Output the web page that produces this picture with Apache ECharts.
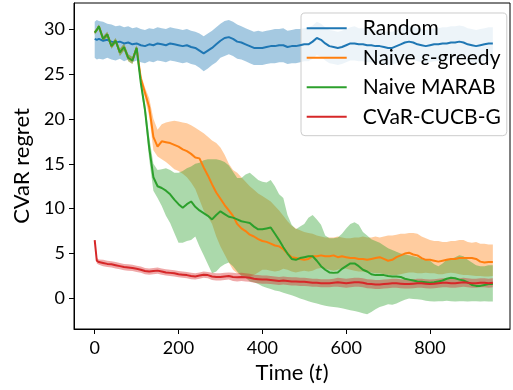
<!DOCTYPE html>
<html>
<head>
<meta charset="utf-8">
<script src="https://cdn.jsdelivr.net/npm/echarts@6/dist/echarts.min.js"></script>
<style>html,body{margin:0;padding:0;background:#fff;}#c{width:513px;height:390px;}</style>
</head>
<body>
<div id="c"></div>
<script>
const T = [0,5,10,20,30,40,50,60,70,80,90,100,
110,120,130,140,150,160,170,180,190,200,
210,220,230,240,250,260,270,280,290,300,
310,320,330,340,350,360,370,380,390,400,
410,420,430,440,450,460,470,480,490,500,
510,520,530,540,550,560,570,580,590,600,
610,620,630,640,650,660,670,680,690,700,
710,720,730,740,750,760,770,780,790,800,
810,820,830,840,850,860,870,880,890,900,
910,920,930,940,950];

const seriesNames = ['Random', 'Naive ε-greedy', 'Naive MARAB', 'CVaR-CUCB-G'];
const xTicks = [0, 200, 400, 600, 800];
const yTicks = [0, 5, 10, 15, 20, 25, 30];

// Random
const randomMean = [28.9,28.8,
28.9,28.7,28.8,28.6,28.5,28.6,28.4,28.5,28.3,28.4,
28.2,28.1,28.3,28.2,28.4,28.3,28.2,28.4,28.3,28.2,
28.1,28.2,28.0,27.9,27.6,27.3,27.6,27.9,28.3,28.7,
29.0,29.1,28.9,28.6,28.5,28.3,28.1,27.9,27.9,27.9,
28.0,28.1,28.1,28.2,28.2,28.0,28.1,28.1,28.2,28.3,
28.3,28.6,29.0,28.8,28.4,28.1,28.0,27.9,28.0,28.2,
28.4,28.4,28.3,28.3,28.2,28.2,28.1,28.1,28.0,27.9,
27.9,28.1,28.3,28.5,28.6,28.5,28.3,28.2,28.1,28.2,
28.3,28.3,28.4,28.4,28.5,28.5,28.6,28.5,28.3,28.2,
28.1,28.2,28.3,28.4,28.4];
const randomHi = [30.8,31.0,
30.9,30.8,30.6,30.5,30.3,30.4,30.2,30.3,30.1,30.2,
30.0,29.9,30.1,30.0,30.2,30.1,30.0,30.2,30.1,30.0,
29.9,30.0,29.8,29.7,29.5,29.2,29.5,29.8,30.2,30.6,
30.9,31.0,30.8,30.5,30.3,30.1,29.9,29.7,29.8,29.7,
29.8,29.9,30.0,30.0,30.1,29.8,29.9,30.0,30.0,30.1,
30.2,30.4,30.8,30.6,30.2,29.9,29.8,29.7,29.8,30.0,
30.2,30.3,30.1,30.1,30.0,30.0,29.9,29.9,29.8,29.7,
29.7,29.9,30.1,30.3,30.4,30.3,30.1,30.0,29.9,30.0,
30.1,30.1,30.2,30.2,30.3,30.3,30.4,30.3,30.1,30.0,
29.9,30.0,30.1,30.2,30.2];
const randomLo = [26.8,26.6,
26.7,26.6,26.8,26.6,26.5,26.7,26.4,26.6,26.3,26.5,
26.3,26.2,26.4,26.3,26.5,26.4,26.3,26.5,26.4,26.3,
26.2,26.3,26.1,26.0,25.7,25.3,25.6,26.0,26.3,26.8,
27.0,27.2,27.0,26.7,26.6,26.4,26.2,26.0,26.0,26.0,
26.1,26.2,26.2,26.3,26.3,26.1,26.2,26.2,26.3,26.4,
26.4,26.7,27.1,26.9,26.5,26.2,26.1,26.0,26.1,26.3,
26.5,26.5,26.4,26.4,26.3,26.3,26.2,26.2,26.1,26.0,
26.0,26.2,26.4,26.6,26.7,26.6,26.4,26.3,26.2,26.3,
26.4,26.4,26.5,26.5,26.6,26.6,26.7,26.6,26.4,26.3,
26.2,26.3,26.4,26.5,26.5];

// Naive epsilon-greedy
const greedyMean = [29.6,29.9,
30.3,28.9,29.4,28.1,28.7,27.4,28.0,26.8,26.5,27.9,
24.5,22.9,21.3,18.0,16.9,17.5,17.4,17.3,17.1,16.9,
16.6,16.4,16.1,15.7,15.6,14.6,13.7,12.7,11.8,11.1,
10.4,9.8,9.2,8.3,7.8,7.5,7.1,6.9,6.6,6.4,
6.3,6.1,5.9,5.8,5.5,5.0,4.6,4.5,4.4,4.3,
4.4,4.7,4.7,4.8,4.7,4.7,4.8,4.6,4.7,4.6,
4.5,4.5,4.4,4.4,4.3,4.4,4.5,4.6,4.4,4.2,
4.3,4.6,4.8,5.0,5.1,4.9,4.8,4.5,4.3,4.3,
4.2,4.1,4.2,4.3,4.4,4.4,4.5,4.5,4.5,4.5,
4.4,4.1,4.0,4.05,4.05];
const greedyHi = [29.8,30.1,
30.5,29.2,29.7,28.4,29.0,27.8,28.4,27.2,26.9,28.2,
25.0,23.5,22.3,20.0,18.8,19.4,19.6,19.7,19.8,19.7,
19.6,19.5,19.3,19.0,18.7,18.4,18.0,17.6,17.3,16.8,
16.0,15.0,14.3,14.0,13.5,13.0,12.5,12.1,11.7,11.4,
11.1,10.8,10.3,9.8,9.2,8.6,8.1,7.8,7.6,7.4,
7.3,7.2,7.0,6.9,6.8,6.8,6.8,6.9,6.8,6.7,
6.7,6.8,6.8,6.9,6.8,6.8,6.9,6.8,6.9,7.0,
7.0,7.1,7.2,7.2,7.3,7.3,7.2,6.9,6.7,6.5,
6.4,6.4,6.3,6.3,6.4,6.4,6.5,6.5,6.3,6.2,
6.3,6.1,6.1,6.0,6.0];
const greedyLo = [29.4,29.7,
30.1,28.6,29.1,27.8,28.4,27.0,27.6,26.4,26.1,27.6,
24.0,22.3,20.3,16.5,15.8,15.5,15.2,14.8,14.4,14.2,
13.9,13.5,12.9,12.2,11.0,9.8,9.1,8.3,6.9,5.8,
4.9,4.0,3.2,2.8,2.6,2.5,2.4,2.6,2.9,3.2,
3.2,3.1,3.0,3.1,3.3,3.2,3.0,2.9,3.0,3.1,
3.0,3.1,3.3,3.4,3.3,3.2,3.1,3.2,3.4,3.3,
3.2,3.1,3.0,3.0,2.9,2.9,2.8,2.8,2.7,2.65,
2.6,2.6,2.7,2.8,2.9,2.9,2.8,2.8,2.85,2.8,
2.8,2.7,2.7,2.8,2.85,2.8,2.7,2.6,2.6,2.55,
2.5,2.5,2.45,2.45,2.5];

// Naive MARAB
const marabMean = [29.6,29.9,
30.3,28.9,29.4,28.1,28.7,27.4,28.0,26.8,26.5,27.9,
24.0,21.0,16.8,13.5,12.5,12.3,12.0,11.6,11.0,10.5,
10.1,10.5,10.8,10.2,9.8,9.5,9.2,8.8,9.3,9.7,
9.4,9.1,9.0,8.8,8.6,8.5,8.4,8.0,7.7,7.7,
7.8,7.9,7.2,6.5,5.7,5.0,4.4,4.3,4.5,4.6,
4.7,4.7,4.2,3.6,3.2,2.9,2.85,2.9,3.3,3.6,
3.9,3.9,3.6,3.2,3.0,2.7,2.6,2.6,2.6,2.5,
2.45,2.45,2.4,2.2,2.1,2.0,1.9,1.85,1.8,1.75,
1.8,1.9,2.0,2.2,2.3,2.25,2.1,2.0,1.8,1.5,
1.4,1.4,1.5,1.6,1.6];
const marabHi = [29.8,30.1,
30.5,29.2,29.7,28.4,29.0,27.8,28.4,27.2,26.9,28.2,
24.5,21.8,18.0,15.0,14.3,14.4,14.5,14.3,14.0,14.0,
14.2,14.5,14.7,15.0,15.1,15.4,15.5,15.5,15.5,15.4,
15.2,14.8,14.1,13.4,13.4,13.8,14.0,13.6,13.2,13.0,
12.9,13.2,12.5,11.6,11.2,9.3,8.2,7.7,8.0,8.3,
9.0,9.3,8.8,8.2,7.0,6.7,6.7,6.8,7.2,7.8,
8.3,8.5,8.2,7.4,7.0,6.6,6.4,6.2,5.9,5.6,
5.4,5.2,5.0,4.9,4.8,4.7,4.6,4.4,4.3,4.2,
3.8,3.6,3.9,4.3,4.4,4.6,4.8,4.7,4.3,4.0,
3.7,3.6,3.6,3.7,3.7];
const marabLo = [29.4,29.7,
30.1,28.6,29.1,27.8,28.4,27.0,27.6,26.4,26.1,27.6,
23.5,20.2,15.5,12.0,11.2,10.3,9.2,8.4,7.3,6.2,
6.2,6.4,6.5,6.9,5.8,4.8,3.8,2.8,3.0,3.5,
3.8,4.0,3.6,3.0,2.5,2.3,1.9,1.8,1.6,1.35,
1.2,1.05,0.9,0.8,0.65,0.5,0.35,0.2,0.0,-0.15,
-0.3,-0.45,-0.55,-0.7,-0.8,-0.9,-0.95,-1.0,-1.1,-1.2,
-1.3,-1.4,-1.5,-1.65,-1.75,-1.5,-1.2,-0.95,-0.8,-0.65,
-0.7,-0.55,-0.35,-0.15,0.0,-0.05,-0.1,-0.15,-0.25,-0.3,
-0.35,-0.3,-0.3,-0.25,-0.3,-0.35,-0.3,-0.3,-0.35,-0.3,
-0.3,-0.35,-0.3,-0.35,-0.35];

// CVaR-CUCB-G
const cucbMean = [6.5,4.2,
4.05,3.95,3.85,3.8,3.7,3.6,3.5,3.45,3.4,3.3,
3.2,3.05,3.0,3.05,3.1,3.0,2.9,2.85,2.8,2.7,
2.65,2.6,2.5,2.45,2.55,2.65,2.6,2.45,2.4,2.4,
2.45,2.5,2.4,2.35,2.4,2.35,2.3,2.2,2.15,2.1,
2.1,2.05,2.0,1.95,2.0,1.95,1.9,1.9,1.85,1.85,
1.8,1.75,1.75,1.7,1.7,1.7,1.75,1.8,1.75,1.7,
1.75,1.8,1.8,1.75,1.65,1.6,1.55,1.55,1.6,1.65,
1.7,1.7,1.65,1.6,1.6,1.65,1.7,1.7,1.65,1.6,
1.65,1.7,1.75,1.75,1.7,1.7,1.75,1.8,1.75,1.7,
1.7,1.75,1.75,1.7,1.75];
const cucbHi = [6.6,4.5,
4.35,4.3,4.2,4.15,4.05,3.95,3.85,3.8,3.75,3.65,
3.55,3.4,3.35,3.4,3.45,3.35,3.25,3.2,3.15,3.05,
3.0,2.95,2.85,2.8,2.9,3.0,2.95,2.85,2.8,2.8,
2.85,2.9,2.85,2.8,2.85,2.8,2.75,2.65,2.6,2.55,
2.55,2.5,2.45,2.4,2.45,2.4,2.35,2.35,2.3,2.3,
2.25,2.2,2.2,2.15,2.15,2.15,2.2,2.3,2.25,2.2,
2.25,2.3,2.3,2.25,2.15,2.1,2.05,2.05,2.1,2.15,
2.2,2.2,2.15,2.1,2.1,2.15,2.2,2.2,2.15,2.1,
2.15,2.2,2.25,2.25,2.2,2.2,2.25,2.3,2.25,2.2,
2.2,2.25,2.25,2.2,2.25];
const cucbLo = [6.4,3.9,
3.75,3.6,3.5,3.45,3.35,3.25,3.15,3.1,3.05,2.95,
2.85,2.7,2.65,2.7,2.75,2.65,2.55,2.5,2.45,2.35,
2.3,2.25,2.15,2.1,2.2,2.3,2.25,2.05,2.0,2.0,
2.05,2.1,1.95,1.9,1.95,1.9,1.85,1.75,1.7,1.65,
1.65,1.6,1.55,1.5,1.55,1.5,1.45,1.45,1.4,1.4,
1.35,1.3,1.3,1.25,1.25,1.25,1.3,1.3,1.25,1.2,
1.25,1.3,1.3,1.25,1.15,1.1,1.05,1.05,1.1,1.15,
1.2,1.2,1.15,1.1,1.1,1.15,1.2,1.2,1.15,1.1,
1.15,1.2,1.25,1.25,1.2,1.2,1.25,1.3,1.25,1.2,
1.2,1.25,1.25,1.2,1.25];

const colors = ['#1f77b4', '#ff7f0e', '#2ca02c', '#d62728'];
const bandColors = ['rgba(31,119,180,0.4)', 'rgba(255,127,14,0.4)', 'rgba(44,160,44,0.4)', 'rgba(214,39,40,0.4)'];
const means = [randomMean, greedyMean, marabMean, cucbMean];
const his = [randomHi, greedyHi, marabHi, cucbHi];
const los = [randomLo, greedyLo, marabLo, cucbLo];

const FONT = 'Lato';

function pairs(arr) { return T.map((t, i) => [t, arr[i]]); }

function band(idx) {
  const hi = his[idx], lo = los[idx];
  return {
    type: 'custom',
    silent: true,
    z: 1 + idx * 0.01,
    clip: true,
    data: [[0, 0]],
    encode: {x: 0, y: 1},
    renderItem: function (params, api) {
      const pts = [];
      for (let i = 0; i < T.length; i++) pts.push(api.coord([T[i], hi[i]]));
      for (let i = T.length - 1; i >= 0; i--) pts.push(api.coord([T[i], lo[i]]));
      return {type: 'polygon', shape: {points: pts}, style: {fill: bandColors[idx], stroke: null}};
    }
  };
}

function line(idx) {
  return {
    type: 'line',
    name: seriesNames[idx],
    data: pairs(means[idx]),
    showSymbol: false,
    symbol: 'none',
    z: 5 + idx * 0.01,
    color: colors[idx],
    lineStyle: {width: 2, color: colors[idx]},
    animation: false
  };
}

const chart = echarts.init(document.getElementById('c'), null, {renderer: 'canvas'});
chart.setOption({
  animation: false,
  backgroundColor: '#fff',
  grid: {left: 74, right: 3, top: 3, bottom: 61, show: true, borderColor: '#000', borderWidth: 1, backgroundColor: 'transparent'},
  xAxis: {
    type: 'value', min: -49.4, max: 990.9,
    name: 'Time ({it|t})', nameLocation: 'middle', nameGap: 30,
    nameTextStyle: {fontFamily: FONT, fontSize: 22, color: '#000', rich: {it: {fontFamily: FONT, fontSize: 22, fontStyle: 'italic', color: '#000'}}},
    axisLine: {show: true, onZero: false, lineStyle: {color: '#000', width: 1}},
    axisTick: {show: true, inside: false, length: 5, customValues: xTicks, lineStyle: {color: '#000', width: 1}},
    axisLabel: {customValues: xTicks, fontFamily: FONT, fontSize: 18, color: '#000', margin: 10},
    splitLine: {show: false}
  },
  yAxis: {
    type: 'value', min: -3.4, max: 32.9,
    name: 'CVaR regret', nameLocation: 'middle', nameGap: 36,
    nameTextStyle: {fontFamily: FONT, fontSize: 22, color: '#000'},
    axisLine: {show: true, onZero: false, lineStyle: {color: '#000', width: 1}},
    axisTick: {show: true, inside: false, length: 5, customValues: yTicks, lineStyle: {color: '#000', width: 1}},
    axisLabel: {customValues: yTicks, fontFamily: FONT, fontSize: 18, color: '#000', margin: 9},
    splitLine: {show: false}
  },
  legend: {
    data: seriesNames.map(n => ({name: n, icon: 'rect'})),
    orient: 'vertical',
    left: 301, top: 13,
    itemWidth: 40, itemHeight: 2, itemGap: 8.5,
    padding: [4.8, 6, 8.4, 5.7],
    backgroundColor: 'rgba(255,255,255,0.8)',
    borderColor: '#cccccc', borderWidth: 1, borderRadius: 4,
    selectedMode: false,
    formatter: function (name) {
      if (name.indexOf('ε') >= 0) return 'Naive {it|ε}-greedy';
      return name;
    },
    textStyle: {fontFamily: FONT, fontSize: 21, color: '#000', lineHeight: 21, padding: [0, 0, 0, 11],
      rich: {it: {fontFamily: FONT, fontSize: 21, fontStyle: 'italic', color: '#000', lineHeight: 21}}}
  },
  series: [band(0), band(1), band(2), band(3), line(0), line(1), line(2), line(3)]
});
</script>
</body>
</html>
